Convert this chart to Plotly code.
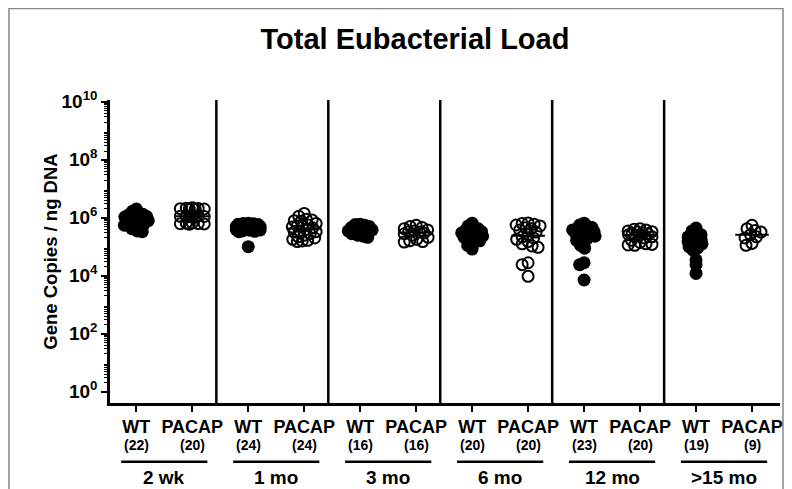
import numpy as np
import plotly.graph_objects as go

title = "Total Eubacterial Load"
y_title = "Gene Copies / ng DNA"
groups = ["2 wk", "1 mo", "3 mo", "6 mo", "12 mo", ">15 mo"]
genotypes = ["WT", "PACAP"]
counts = [22, 20, 24, 24, 16, 16, 20, 20, 23, 20, 19, 9]

wt_2wk = [2.0e6, 1.66e6, 1.41e6, 1.32e6, 1.26e6, 1.15e6, 1.1e6, 1.05e6, 9.5e5, 9.1e5, 8.7e5,
          7.9e5, 7.6e5, 7.2e5, 6.6e5, 6.3e5, 6.0e5, 5.5e5, 5.0e5, 4.2e5, 3.5e5, 3.3e5]
pacap_2wk = [2.2e6, 2.14e6, 2.1e6, 2.05e6, 2.0e6, 2.0e6, 1.95e6, 1.2e6, 1.17e6, 1.15e6,
             1.12e6, 1.1e6, 1.07e6, 1.05e6, 6.6e5, 6.5e5, 6.3e5, 6.2e5, 6.1e5, 6.0e5]
wt_1mo = [6.5e5, 6.3e5, 6.2e5, 6.0e5, 5.8e5, 5.6e5, 5.5e5, 5.3e5, 5.2e5, 5.0e5, 4.9e5, 4.7e5,
          4.6e5, 4.4e5, 4.3e5, 4.2e5, 4.0e5, 3.9e5, 3.8e5, 3.7e5, 3.5e5, 3.4e5, 3.3e5, 1.0e5]
pacap_1mo = [1.41e6, 1.12e6, 8.9e5, 8.3e5, 7.9e5, 7.6e5, 6.3e5, 5.6e5, 5.2e5, 5.0e5, 4.8e5, 4.5e5,
             4.0e5, 3.5e5, 3.3e5, 3.2e5, 2.8e5, 2.5e5, 2.2e5, 2.0e5, 1.8e5, 1.66e5, 1.58e5, 1.51e5]
wt_3mo = [6.0e5, 5.8e5, 5.5e5, 5.0e5, 4.6e5, 4.2e5, 4.0e5, 3.8e5, 3.6e5, 3.5e5, 3.3e5, 3.2e5,
          2.8e5, 2.5e5, 2.3e5, 2.1e5]
pacap_3mo = [5.5e5, 5.0e5, 4.6e5, 4.2e5, 3.8e5, 3.5e5, 3.3e5, 3.2e5, 3.0e5, 2.8e5, 2.5e5, 2.1e5,
             1.8e5, 1.6e5, 1.5e5, 1.45e5]
wt_6mo = [6.5e5, 5.2e5, 4.6e5, 4.2e5, 3.8e5, 3.5e5, 3.3e5, 3.2e5, 3.0e5, 2.8e5, 2.6e5, 2.5e5,
          2.3e5, 2.1e5, 1.9e5, 1.8e5, 1.6e5, 1.3e5, 1.1e5, 8.3e4]
pacap_6mo = [6.6e5, 6.3e5, 6.0e5, 5.6e5, 5.2e5, 4.5e5, 4.2e5, 3.8e5, 3.2e5, 2.6e5, 2.2e5, 2.0e5,
             1.8e5, 1.5e5, 1.26e5, 1.05e5, 9.5e4, 2.8e4, 2.4e4, 9.5e3]
wt_12mo = [6.5e5, 5.6e5, 5.0e5, 4.6e5, 4.2e5, 4.0e5, 3.8e5, 3.5e5, 3.3e5, 3.2e5, 2.9e5, 2.6e5,
           2.5e5, 2.3e5, 2.1e5, 1.9e5, 1.66e5, 1.4e5, 1.1e5, 8.9e4, 2.8e4, 2.4e4, 7.1e3]
pacap_12mo = [4.2e5, 4.0e5, 3.8e5, 3.5e5, 3.3e5, 3.2e5, 3.0e5, 2.9e5, 2.75e5, 2.6e5, 2.5e5, 2.4e5,
              2.2e5, 2.0e5, 1.66e5, 1.4e5, 1.26e5, 1.2e5, 1.15e5, 1.12e5]
wt_15mo = [4.4e5, 3.5e5, 3.0e5, 2.6e5, 2.4e5, 2.2e5, 2.0e5, 1.8e5, 1.66e5, 1.5e5, 1.4e5, 1.26e5,
           1.12e5, 1.0e5, 8.9e4, 7.6e4, 3.5e4, 2.4e4, 1.2e4]
pacap_15mo = [5.5e5, 4.2e5, 3.6e5, 3.2e5, 2.6e5, 2.2e5, 2.0e5, 1.3e5, 1.12e5]

series = [wt_2wk, pacap_2wk, wt_1mo, pacap_1mo, wt_3mo, pacap_3mo,
          wt_6mo, pacap_6mo, wt_12mo, pacap_12mo, wt_15mo, pacap_15mo]

# ---- layout geometry (pixels, figure coordinates; page body adds an 8px offset) ----
OFF = 8
W, H = 792 - OFF, 489 - OFF
ML, MR, MT, MB = 102, 9, 92, 86
PW, PH = W - ML - MR, H - MT - MB
XR = [-0.47, 11.5]
YR = [-0.39, 10.06]
PX_X = PW / (XR[1] - XR[0])
PX_Y = PH / (YR[1] - YR[0])
FONT = "Liberation Sans, Arial, sans-serif"


def py(ypx_screen):
    return (H - MB - (ypx_screen - OFF)) / PH


def px(xpx_screen):
    return ((xpx_screen - OFF) - ML) / PW


def swarm(vals, min_dist, max_hw=12.0, step=0.5):
    """Column-scatter layout: nearest free spot to the centre, capped in width."""
    L = np.log10(np.asarray(vals, dtype=float)) * PX_Y
    order = np.argsort(-L)
    cands = sorted(np.arange(-max_hw, max_hw + 0.01, step), key=lambda c: (abs(c), c))
    placed, offs = [], np.zeros(len(L))
    for i in order:
        y = L[i]
        best, best_d = 0.0, -1.0
        for c in cands:
            d = min([np.hypot(c - a, y - b) for a, b in placed] or [1e9])
            if d >= min_dist:
                best = c
                break
            if d > best_d + 1e-9:
                best, best_d = c, d
        placed.append((best, y))
        offs[i] = best
    return offs / PX_X


fig = go.Figure()

# median lines first, so the filled markers cover them
for k, vals in enumerate(series):
    is_wt = (k % 2 == 0)
    med = float(np.median(vals))
    hw = 0.2 if is_wt else 0.3
    fig.add_trace(go.Scatter(x=[k - hw, k + hw], y=[med, med], mode="lines",
                             line=dict(color="black", width=2), showlegend=False,
                             hoverinfo="skip"))

for k, vals in enumerate(series):
    is_wt = (k % 2 == 0)
    xs = k + swarm(vals, 4.6 if is_wt else 6.0)
    fig.add_trace(go.Scatter(
        x=xs, y=vals, mode="markers", showlegend=False,
        name=f"{genotypes[k % 2]} {groups[k // 2]}",
        marker=dict(symbol="circle" if is_wt else "circle-open",
                    size=13 if is_wt else 11, color="black",
                    line=dict(color="black", width=0 if is_wt else 2))))

tickvals_y = [10.0 ** p for p in range(0, 11, 2)]
ticktext_y = [f"<b>10<sup>{p}</sup></b>" for p in range(0, 11, 2)]
minor_y = [k * 10.0 ** d for d in range(0, 10) for k in range(2, 10)]

xt = list(range(len(series)))
xtext = [f"<b>{genotypes[k % 2]}</b>" for k in xt]

shapes = []
for g in range(len(groups) - 1):
    sx = 2 * g + 1.43
    shapes.append(dict(type="line", xref="x", yref="paper", x0=sx, x1=sx, y0=0, y1=1,
                       line=dict(color="black", width=2.5)))
for g in range(len(groups)):
    cx = 2 * g + 0.5
    shapes.append(dict(type="line", xref="x", yref="paper", x0=cx - 0.77, x1=cx + 0.77,
                       y0=py(461.7), y1=py(461.7), line=dict(color="black", width=2.5)))
shapes.append(dict(type="rect", xref="paper", yref="paper", x0=px(8.5), x1=px(786),
                   y0=py(500), y1=py(8.5), line=dict(color="#888888", width=1.5),
                   layer="below"))

annotations = []
for k in xt:
    annotations.append(dict(x=k, y=py(445), xref="x", yref="paper", showarrow=False,
                            text=f"<b>({counts[k]})</b>", font=dict(size=14, family=FONT, color="black"),
                            yanchor="middle"))
for g, name in enumerate(groups):
    annotations.append(dict(x=2 * g + 0.5, y=py(477.5), xref="x", yref="paper", showarrow=False,
                            text=f"<b>{name}</b>", font=dict(size=19, family=FONT, color="black"),
                            yanchor="middle"))

fig.update_layout(
    width=W, height=H, margin=dict(l=ML, r=MR, t=MT, b=MB),
    paper_bgcolor="white", plot_bgcolor="white",
    font=dict(family=FONT, color="black"),
    title=dict(text=f"<b>{title}</b>", x=(415 - OFF) / W, xanchor="center", y=1 - (39 - OFF) / H,
               yanchor="middle", font=dict(size=29, family=FONT, color="black")),
    xaxis=dict(range=XR, tickmode="array", tickvals=xt, ticktext=xtext,
               showline=True, linecolor="black", linewidth=2.5, ticks="outside",
               ticklen=6, tickwidth=2, tickcolor="black", showgrid=False, zeroline=False,
               tickfont=dict(size=18, family=FONT, color="black")),
    yaxis=dict(type="log", range=YR, tickmode="array", tickvals=tickvals_y, ticktext=ticktext_y,
               showline=True, linecolor="black", linewidth=2.5, ticks="outside",
               ticklen=6, tickwidth=2, tickcolor="black", showgrid=False, zeroline=False,
               tickfont=dict(size=19, family=FONT, color="black"),
               minor=dict(tickmode="array", tickvals=minor_y, ticks="outside", ticklen=3,
                          tickwidth=1.2, tickcolor="black", showgrid=False),
               title=dict(text=f"<b>{y_title}</b>", font=dict(size=18.5, family=FONT, color="black"),
                          standoff=0)),
    shapes=shapes, annotations=annotations,
)

fig.write_html("out.html")
